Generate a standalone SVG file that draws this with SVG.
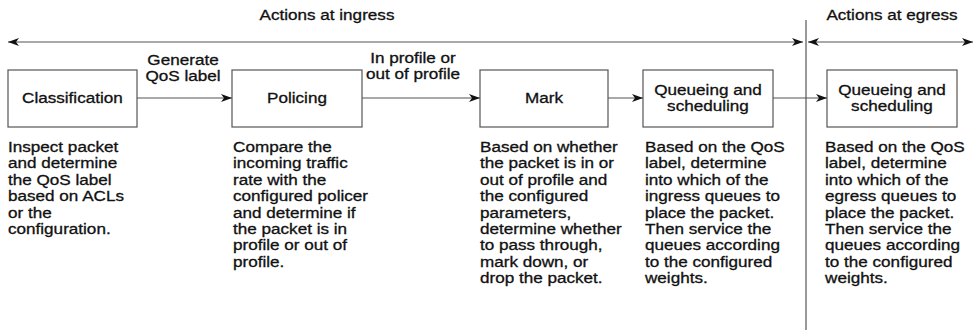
<svg xmlns="http://www.w3.org/2000/svg" width="978" height="335" viewBox="0 0 978 335">
<defs>
<marker id="ah" viewBox="0 0 11 8" refX="11" refY="4" markerWidth="11" markerHeight="8" markerUnits="userSpaceOnUse" orient="auto-start-reverse">
<path d="M0,0 L11,4 L0,8 L3,4 z" fill="#111"/>
</marker>
</defs>
<style>
text{font-family:"Liberation Sans",Arial,sans-serif;font-size:14.5px;fill:#111;stroke:#111;stroke-width:0.3}
.mid{text-anchor:middle}
.box{fill:#fff;stroke:#555;stroke-width:1.2}
.conn{stroke:#555;stroke-width:1.2;fill:none}
</style>
<rect width="978" height="335" fill="#fff"/>

<g id="headers" transform="scale(1.18,1)">
<text class="mid" x="277.1" y="20">Actions at ingress</text>
<text class="mid" x="755.9" y="20">Actions at egress</text>
</g>

<g id="connectors">
<line class="conn" x1="806" y1="20" x2="806" y2="330"/>
<line class="conn" x1="8" y1="42" x2="803" y2="42" marker-start="url(#ah)" marker-end="url(#ah)"/>
<line class="conn" x1="808" y1="42" x2="973" y2="42" marker-start="url(#ah)" marker-end="url(#ah)"/>
<line class="conn" x1="137" y1="98" x2="232" y2="98" marker-end="url(#ah)"/>
<line class="conn" x1="362" y1="98" x2="480" y2="98" marker-end="url(#ah)"/>
<line class="conn" x1="608" y1="98" x2="643" y2="98" marker-end="url(#ah)"/>
<line class="conn" x1="773" y1="98" x2="827" y2="98" marker-end="url(#ah)"/>
<g transform="scale(1.18,1)">
<text class="mid" x="155.1" y="65">Generate</text>
<text class="mid" x="155.1" y="81">QoS label</text>
<text class="mid" x="350" y="63">In profile or</text>
<text class="mid" x="350" y="79">out of profile</text>
</g>
</g>

<g id="classification">
<rect class="box" x="8" y="70" width="129" height="57"/>
<g transform="scale(1.18,1)">
<text class="mid" x="61.4" y="103">Classification</text>
<text x="6.8" y="152"><tspan x="6.8">Inspect packet</tspan><tspan x="6.8" dy="16.4">and determine</tspan><tspan x="6.8" dy="16.4">the QoS label</tspan><tspan x="6.8" dy="16.4">based on ACLs</tspan><tspan x="6.8" dy="16.4">or the</tspan><tspan x="6.8" dy="16.4">configuration.</tspan></text>
</g>
</g>

<g id="policing">
<rect class="box" x="232" y="70" width="130" height="57"/>
<g transform="scale(1.18,1)">
<text class="mid" x="251.7" y="103">Policing</text>
<text x="197.5" y="152"><tspan x="197.5">Compare the</tspan><tspan x="197.5" dy="16.4">incoming traffic</tspan><tspan x="197.5" dy="16.4">rate with the</tspan><tspan x="197.5" dy="16.4">configured policer</tspan><tspan x="197.5" dy="16.4">and determine if</tspan><tspan x="197.5" dy="16.4">the packet is in</tspan><tspan x="197.5" dy="16.4">profile or out of</tspan><tspan x="197.5" dy="16.4">profile.</tspan></text>
</g>
</g>

<g id="mark">
<rect class="box" x="480" y="70" width="128" height="57"/>
<g transform="scale(1.18,1)">
<text class="mid" x="461" y="103">Mark</text>
<text x="406.8" y="152"><tspan x="406.8">Based on whether</tspan><tspan x="406.8" dy="16.4">the packet is in or</tspan><tspan x="406.8" dy="16.4">out of profile and</tspan><tspan x="406.8" dy="16.4">the configured</tspan><tspan x="406.8" dy="16.4">parameters,</tspan><tspan x="406.8" dy="16.4">determine whether</tspan><tspan x="406.8" dy="16.4">to pass through,</tspan><tspan x="406.8" dy="16.4">mark down, or</tspan><tspan x="406.8" dy="16.4">drop the packet.</tspan></text>
</g>
</g>

<g id="ingress-queueing">
<rect class="box" x="643" y="70" width="130" height="57"/>
<g transform="scale(1.18,1)">
<text class="mid" x="600" y="95">Queueing and</text>
<text class="mid" x="600" y="111">scheduling</text>
<text x="546.6" y="152"><tspan x="546.6">Based on the QoS</tspan><tspan x="546.6" dy="16.4">label, determine</tspan><tspan x="546.6" dy="16.4">into which of the</tspan><tspan x="546.6" dy="16.4">ingress queues to</tspan><tspan x="546.6" dy="16.4">place the packet.</tspan><tspan x="546.6" dy="16.4">Then service the</tspan><tspan x="546.6" dy="16.4">queues according</tspan><tspan x="546.6" dy="16.4">to the configured</tspan><tspan x="546.6" dy="16.4">weights.</tspan></text>
</g>
</g>

<g id="egress-queueing">
<rect class="box" x="827" y="70" width="130" height="57"/>
<g transform="scale(1.18,1)">
<text class="mid" x="755.9" y="95">Queueing and</text>
<text class="mid" x="755.9" y="111">scheduling</text>
<text x="699.2" y="152"><tspan x="699.2">Based on the QoS</tspan><tspan x="699.2" dy="16.4">label, determine</tspan><tspan x="699.2" dy="16.4">into which of the</tspan><tspan x="699.2" dy="16.4">egress queues to</tspan><tspan x="699.2" dy="16.4">place the packet.</tspan><tspan x="699.2" dy="16.4">Then service the</tspan><tspan x="699.2" dy="16.4">queues according</tspan><tspan x="699.2" dy="16.4">to the configured</tspan><tspan x="699.2" dy="16.4">weights.</tspan></text>
</g>
</g>
</svg>
